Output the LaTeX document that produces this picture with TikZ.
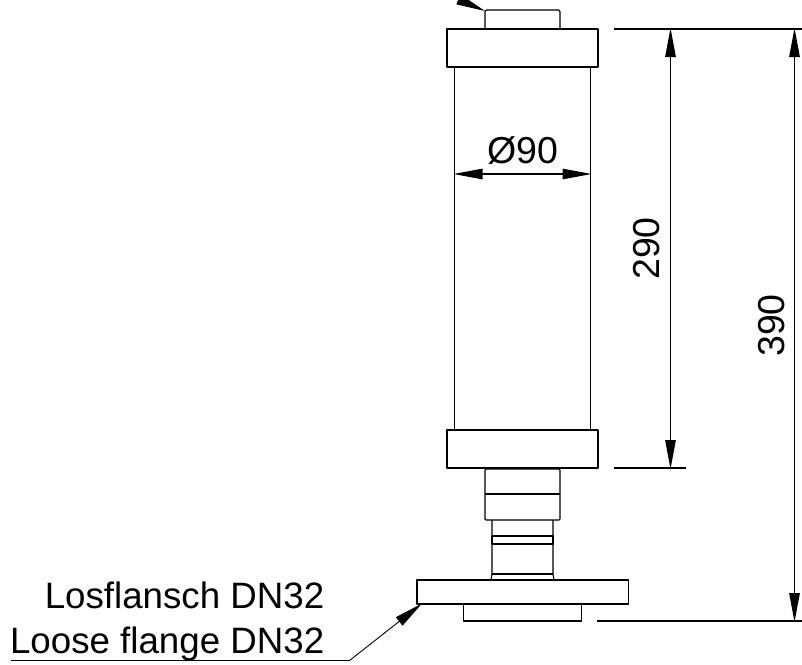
\documentclass[tikz,border=0pt]{standalone}
\usepackage{fontspec}
\setmainfont{Liberation Sans}
\usetikzlibrary{arrows.meta, positioning, calc}
\tikzset{
    part/.style={draw=black, line width=1.1pt, line join=round},
    dimline/.style={draw=black, line width=1.2pt},
    dimarrow/.style={draw=black, line width=1.2pt, {Triangle[length=29pt,width=10.5pt]}-{Triangle[length=29pt,width=10.5pt]}},
    leader/.style={draw=black, line width=0.9pt, -{Triangle[length=29pt,width=10.5pt]}},
    dimtext/.style={font=\fontsize{37.5}{40}\selectfont, inner sep=0pt},
    labeltext/.style={font=\fontsize{36.7}{40}\selectfont, inner sep=0pt, anchor=base east}
}
\begin{document}
\begin{tikzpicture}[x=1pt,y=-1pt]
\useasboundingbox (0,0) rectangle (802,664);
% Housing, top to bottom
\draw[part, rounded corners=1.5pt] (485,29) -- (485,10) -- (560,10) -- (560,29);
\draw[part] (447,29) rectangle (598,67);
\draw[part] (454.5,67) -- (454.5,430) (590.5,67) -- (590.5,430);
\draw[part] (447,430) rectangle (598,468);
% Connection piece
\draw[part, rounded corners=1pt] (485,469) rectangle (560,520);
\draw[part] (485,494) -- (560,494);
\draw[part] (492,520) -- (492,574) -- (491,580) (553,520) -- (553,574) -- (554,580);
\draw[part] (492,536) rectangle (553,544);
\draw[part] (492,574) -- (553,574);
% Flange
\draw[part] (417,580) rectangle (628.5,604);
\draw[part] (463.5,604) -- (463.5,621) -- (581.5,621) -- (581.5,604);
% Extension lines
\coordinate (top290) at (670.5,28);
\coordinate (bot290) at (670.5,469);
\coordinate (top390) at (794.5,28);
\coordinate (bot390) at (794.5,622);
\coordinate (bodyL) at (453.5,174);
\coordinate (bodyR) at (591.5,174);
\draw[dimline] (614,29) -- (802,29);
\draw[dimline] (614,468) -- (686,468);
\draw[dimline] (597,621) -- (802,621);
% Dimensions
\draw[dimarrow] (top290) -- (bot290);
\draw[dimarrow] (top390) -- (bot390);
\draw[dimarrow, line width=1.1pt] (bodyL) -- (bodyR);
\node[dimtext, anchor=base] (dia) at (522.5,163) {Ø90};
\node[dimtext, rotate=90, anchor=base] (len290) at (659.5,248.5) {290};
\node[dimtext, rotate=90, anchor=base] (len390) at (784.5,325.5) {390};
% Labels and leaders
\node[labeltext] (labelDE) at (324.5,608) {Losflansch DN32};
\node[labeltext] (labelEN) at (324.5,653) {Loose flange DN32};
\coordinate (leadStart) at (11,660.5);
\coordinate (leadBend) at (349.5,660.5);
\coordinate (leadTip) at (422,603.5);
\draw[leader] (leadStart) -- (leadBend) -- (leadTip);
\coordinate (topTail) at (430,-13);
\coordinate (topTip) at (485,11);
\draw[leader] (topTail) -- (topTip);
\end{tikzpicture}
\end{document}
